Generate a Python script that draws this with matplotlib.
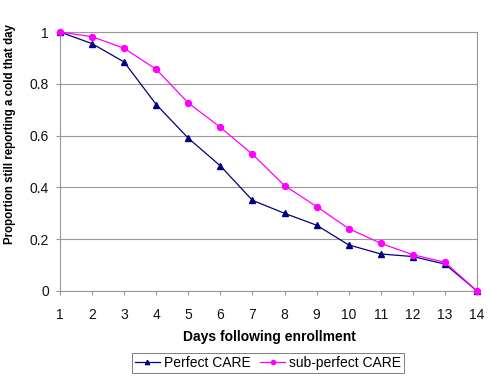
import matplotlib
matplotlib.use("Agg")
import matplotlib.pyplot as plt

plt.rcParams['font.family'] = ['Liberation Sans', 'DejaVu Sans']

# Data
days = [1, 2, 3, 4, 5, 6, 7, 8, 9, 10, 11, 12, 13, 14]
perfect_care = [1.0, 0.955, 0.884, 0.72, 0.59, 0.483, 0.35, 0.30, 0.254, 0.178, 0.143, 0.133, 0.104, 0.0]
sub_perfect_care = [1.0, 0.982, 0.937, 0.856, 0.726, 0.632, 0.528, 0.407, 0.326, 0.241, 0.184, 0.140, 0.111, 0.0]
yticks = [0, 0.2, 0.4, 0.6, 0.8, 1]
ytick_labels = ["0", "0.2", "0.4", "0.6", "0.8", "1"]

fig = plt.figure(figsize=(4.9, 3.88), dpi=100)
ax = fig.add_axes([60 / 490, 1 - 291 / 388, (477 - 60) / 490, (291 - 32) / 388])

ax.plot(days, perfect_care, color="#000080", lw=0.9, marker="^", ms=4.5,
        label="Perfect CARE", clip_on=False, zorder=3)
ax.plot(days, sub_perfect_care, color="#FF00FF", lw=0.9, marker="o", ms=4.3,
        label="sub-perfect CARE", clip_on=False, zorder=4)

ax.set_xlim(1, 14)
ax.set_ylim(0, 1)
ax.set_xticks(days)
ax.set_yticks(yticks)
ax.set_yticklabels(ytick_labels)
ax.yaxis.grid(True, color="#999999", lw=0.8)
ax.set_axisbelow(True)

for side in ["top", "right", "left", "bottom"]:
    ax.spines[side].set_color("#999999")
    ax.spines[side].set_linewidth(0.8)

ax.tick_params(axis="both", direction="out", length=3, color="#999999",
               labelsize=10, labelcolor="#111111")
ax.tick_params(axis="x", pad=9)
ax.tick_params(axis="y", pad=5)

# axis titles placed like the Excel original
fig.text(269 / 490, 1 - 337 / 388, "Days following enrollment", fontsize=10,
         fontweight="bold", ha="center", va="center")
fig.text(10 / 490, 1 - 134 / 388, "Proportion still reporting a cold that day",
         fontsize=8.3, fontweight="bold", rotation=90, ha="center", va="center")

leg = fig.legend(loc="center", bbox_to_anchor=(268 / 490, 1 - 363 / 388), ncol=2,
                 fontsize=10, frameon=True, fancybox=False, edgecolor="#444444",
                 handlelength=1.8, columnspacing=0.7, borderpad=0.2,
                 handletextpad=0.3, markerscale=0.7)
leg.get_frame().set_linewidth(0.6)

fig.savefig("out.png", dpi=100)
